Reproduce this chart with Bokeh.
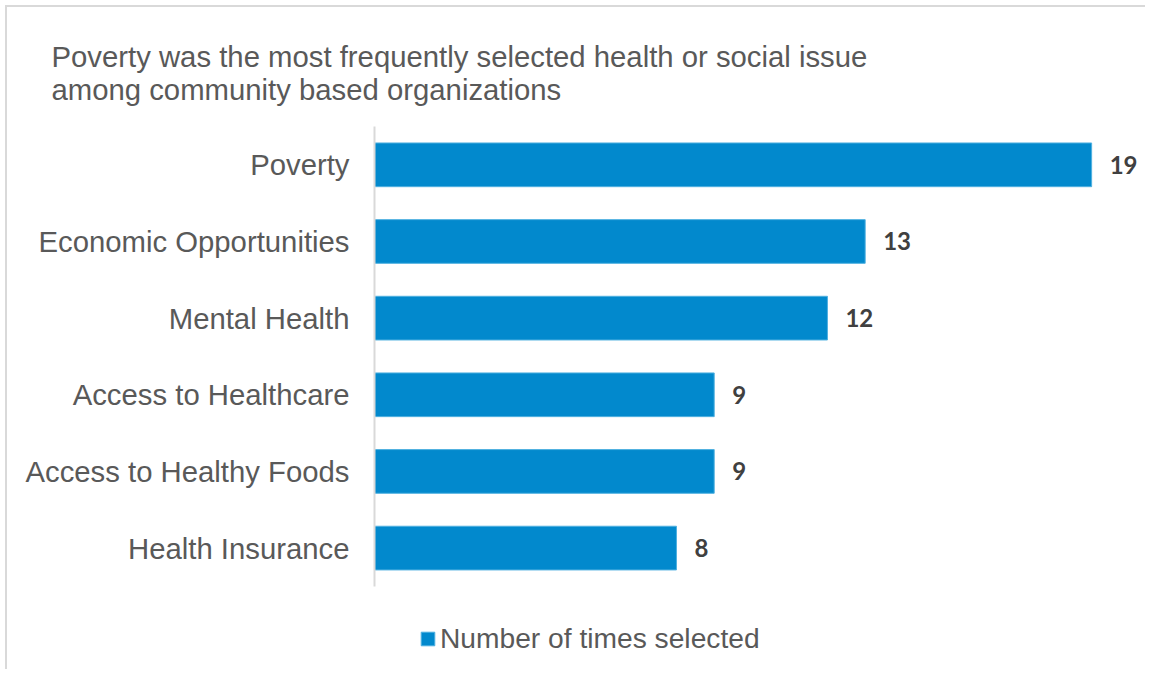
from bokeh.plotting import figure
from bokeh.models import Range1d, Legend, LegendItem, ColumnDataSource, FixedTicker
from bokeh.core.properties import value
from bokeh.embed import file_html
from bokeh.resources import INLINE

categories = ["Poverty", "Economic Opportunities", "Mental Health",
              "Access to Healthcare", "Access to Healthy Foods", "Health Insurance"]
counts = [19, 13, 12, 9, 9, 8]
series_name = "Number of times selected"
title_lines = ["Poverty was the most frequently selected health or social issue",
               "among community based organizations"]

BAR = "#0289cd"
TXT = "#595959"

n_cat = len(categories)
ypos = [n_cat - 1 - i for i in range(n_cat)]
src = ColumnDataSource(dict(y=ypos, n=counts, lab=[str(v) for v in counts]))

p = figure(width=1140, height=664, output_backend="svg", toolbar_location=None,
           y_range=Range1d(-1.61, n_cat - 0.5),
           x_range=Range1d(0, 20.48))
p.styles = {"margin-left": "5px", "margin-top": "5px",
            "border-left": "2px solid #d9d9d9", "border-top": "2px solid #d9d9d9"}
p.min_border = 0
p.min_border_left = 367
p.min_border_top = 119
p.min_border_bottom = 0
p.min_border_right = 0
p.outline_line_color = None
p.grid.visible = False
p.xaxis.visible = False

p.title.text = "\n".join(title_lines)
p.title.align = "left"
p.title.offset = -323
p.title.standoff = 42
p.title.text_font = "Liberation Sans"
p.title.text_font_size = "29.3px"
p.title.text_font_style = "normal"
p.title.text_color = TXT
p.title.text_line_height = 1.0

r = p.hbar(y="y", right="n", left=0, height=0.57, source=src,
           fill_color=BAR, line_color="#4fb0e0", line_width=1)

p.text(x="n", y="y", text="lab", source=src, x_offset=18,
       text_font=value("Lato"), text_font_style="bold", text_font_size="24px",
       text_color="#404040", text_baseline="middle", text_align="left")

ax = p.yaxis[0]
ax.ticker = FixedTicker(ticks=ypos)
ax.major_label_overrides = {y: c for y, c in zip(ypos, categories)}
ax.bounds = (-0.5, n_cat - 0.5)
ax.axis_line_color = "#d9d9d9"
ax.axis_line_width = 2
ax.major_tick_line_color = None
ax.minor_tick_line_color = None
ax.major_label_standoff = 19
ax.major_label_text_font = "Liberation Sans"
ax.major_label_text_font_size = "29.3px"
ax.major_label_text_color = TXT

leg = Legend(items=[LegendItem(label=series_name, renderers=[r])],
             location=(45, 16), orientation="horizontal",
             glyph_width=17, glyph_height=17, label_standoff=4,
             padding=0, margin=0, border_line_color=None, background_fill_alpha=0,
             label_text_font="Liberation Sans", label_text_font_size="28.2px",
             label_text_color=TXT)
p.add_layout(leg, "center")

open("out.html", "w").write(file_html(p, INLINE))
